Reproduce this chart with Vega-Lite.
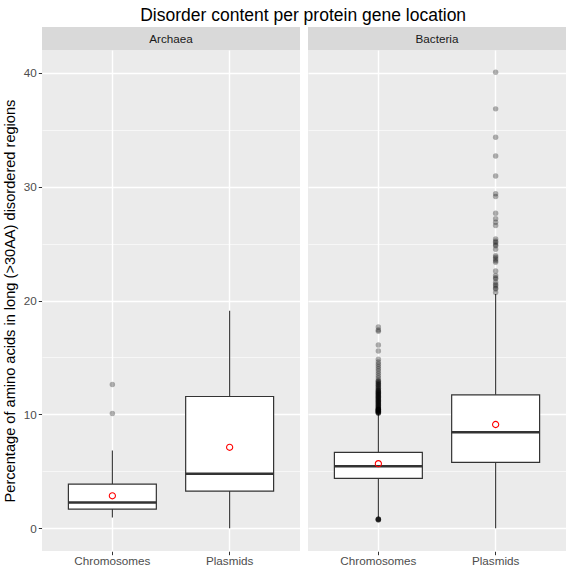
{
  "$schema": "https://vega.github.io/schema/vega-lite/v6.json",
  "padding": {"left": 2, "top": 6, "right": 0, "bottom": 0},
  "title": {"text": "Disorder content per protein gene location", "fontSize": 17.5, "font": "Liberation Sans", "fontWeight": "normal", "color": "#000000", "anchor": "middle", "offset": 3, "dx": 19},
  "datasets": {
    "extra": []
  },
  "data": {"values": [
    {"domain": "Archaea", "location": "Chromosomes", "kind": "box", "lower": 0.94, "q1": 1.68, "median": 2.26, "q3": 3.88, "upper": 6.82, "mean": 2.85},
    {"domain": "Archaea", "location": "Plasmids", "kind": "box", "lower": 0, "q1": 3.26, "median": 4.79, "q3": 11.57, "upper": 19.1, "mean": 7.11},
    {"domain": "Bacteria", "location": "Chromosomes", "kind": "box", "lower": 0.95, "q1": 4.38, "median": 5.44, "q3": 6.67, "upper": 10.05, "mean": 5.67},
    {"domain": "Bacteria", "location": "Plasmids", "kind": "box", "lower": 0, "q1": 5.79, "median": 8.43, "q3": 11.72, "upper": 20.56, "mean": 9.11},
    {"domain": "Archaea", "location": "Chromosomes", "kind": "outlier", "value": 12.63},
    {"domain": "Archaea", "location": "Chromosomes", "kind": "outlier", "value": 10.08},
    {"domain": "Bacteria", "location": "Chromosomes", "kind": "outlier", "value": 17.68},
    {"domain": "Bacteria", "location": "Chromosomes", "kind": "outlier", "value": 17.4},
    {"domain": "Bacteria", "location": "Chromosomes", "kind": "outlier", "value": 17.3},
    {"domain": "Bacteria", "location": "Chromosomes", "kind": "outlier", "value": 16.1},
    {"domain": "Bacteria", "location": "Chromosomes", "kind": "outlier", "value": 15.57},
    {"domain": "Bacteria", "location": "Chromosomes", "kind": "outlier", "value": 14.84},
    {"domain": "Bacteria", "location": "Chromosomes", "kind": "outlier", "value": 14.6},
    {"domain": "Bacteria", "location": "Chromosomes", "kind": "outlier", "value": 14.4},
    {"domain": "Bacteria", "location": "Chromosomes", "kind": "outlier", "value": 14.2},
    {"domain": "Bacteria", "location": "Chromosomes", "kind": "outlier", "value": 14.0},
    {"domain": "Bacteria", "location": "Chromosomes", "kind": "outlier", "value": 13.8},
    {"domain": "Bacteria", "location": "Chromosomes", "kind": "outlier", "value": 13.6},
    {"domain": "Bacteria", "location": "Chromosomes", "kind": "outlier", "value": 13.4},
    {"domain": "Bacteria", "location": "Chromosomes", "kind": "outlier", "value": 13.2},
    {"domain": "Bacteria", "location": "Chromosomes", "kind": "outlier", "value": 13.0},
    {"domain": "Bacteria", "location": "Chromosomes", "kind": "outlier", "value": 12.9},
    {"domain": "Bacteria", "location": "Chromosomes", "kind": "outlier", "value": 12.85},
    {"domain": "Bacteria", "location": "Chromosomes", "kind": "outlier", "value": 12.75},
    {"domain": "Bacteria", "location": "Chromosomes", "kind": "outlier", "value": 12.7},
    {"domain": "Bacteria", "location": "Chromosomes", "kind": "outlier", "value": 12.6},
    {"domain": "Bacteria", "location": "Chromosomes", "kind": "outlier", "value": 12.55},
    {"domain": "Bacteria", "location": "Chromosomes", "kind": "outlier", "value": 12.45},
    {"domain": "Bacteria", "location": "Chromosomes", "kind": "outlier", "value": 12.4},
    {"domain": "Bacteria", "location": "Chromosomes", "kind": "outlier", "value": 12.3},
    {"domain": "Bacteria", "location": "Chromosomes", "kind": "outlier", "value": 12.25},
    {"domain": "Bacteria", "location": "Chromosomes", "kind": "outlier", "value": 12.15},
    {"domain": "Bacteria", "location": "Chromosomes", "kind": "outlier", "value": 12.1},
    {"domain": "Bacteria", "location": "Chromosomes", "kind": "outlier", "value": 12.05},
    {"domain": "Bacteria", "location": "Chromosomes", "kind": "outlier", "value": 12.0},
    {"domain": "Bacteria", "location": "Chromosomes", "kind": "outlier", "value": 11.95},
    {"domain": "Bacteria", "location": "Chromosomes", "kind": "outlier", "value": 11.9},
    {"domain": "Bacteria", "location": "Chromosomes", "kind": "outlier", "value": 11.85},
    {"domain": "Bacteria", "location": "Chromosomes", "kind": "outlier", "value": 11.8},
    {"domain": "Bacteria", "location": "Chromosomes", "kind": "outlier", "value": 11.75},
    {"domain": "Bacteria", "location": "Chromosomes", "kind": "outlier", "value": 11.7},
    {"domain": "Bacteria", "location": "Chromosomes", "kind": "outlier", "value": 11.65},
    {"domain": "Bacteria", "location": "Chromosomes", "kind": "outlier", "value": 11.6},
    {"domain": "Bacteria", "location": "Chromosomes", "kind": "outlier", "value": 11.55},
    {"domain": "Bacteria", "location": "Chromosomes", "kind": "outlier", "value": 11.5},
    {"domain": "Bacteria", "location": "Chromosomes", "kind": "outlier", "value": 11.45},
    {"domain": "Bacteria", "location": "Chromosomes", "kind": "outlier", "value": 11.4},
    {"domain": "Bacteria", "location": "Chromosomes", "kind": "outlier", "value": 11.35},
    {"domain": "Bacteria", "location": "Chromosomes", "kind": "outlier", "value": 11.3},
    {"domain": "Bacteria", "location": "Chromosomes", "kind": "outlier", "value": 11.25},
    {"domain": "Bacteria", "location": "Chromosomes", "kind": "outlier", "value": 11.2},
    {"domain": "Bacteria", "location": "Chromosomes", "kind": "outlier", "value": 11.15},
    {"domain": "Bacteria", "location": "Chromosomes", "kind": "outlier", "value": 11.1},
    {"domain": "Bacteria", "location": "Chromosomes", "kind": "outlier", "value": 11.05},
    {"domain": "Bacteria", "location": "Chromosomes", "kind": "outlier", "value": 11.0},
    {"domain": "Bacteria", "location": "Chromosomes", "kind": "outlier", "value": 10.95},
    {"domain": "Bacteria", "location": "Chromosomes", "kind": "outlier", "value": 10.9},
    {"domain": "Bacteria", "location": "Chromosomes", "kind": "outlier", "value": 10.85},
    {"domain": "Bacteria", "location": "Chromosomes", "kind": "outlier", "value": 10.8},
    {"domain": "Bacteria", "location": "Chromosomes", "kind": "outlier", "value": 10.75},
    {"domain": "Bacteria", "location": "Chromosomes", "kind": "outlier", "value": 10.7},
    {"domain": "Bacteria", "location": "Chromosomes", "kind": "outlier", "value": 10.65},
    {"domain": "Bacteria", "location": "Chromosomes", "kind": "outlier", "value": 10.6},
    {"domain": "Bacteria", "location": "Chromosomes", "kind": "outlier", "value": 10.55},
    {"domain": "Bacteria", "location": "Chromosomes", "kind": "outlier", "value": 10.5},
    {"domain": "Bacteria", "location": "Chromosomes", "kind": "outlier", "value": 10.48},
    {"domain": "Bacteria", "location": "Chromosomes", "kind": "outlier", "value": 10.45},
    {"domain": "Bacteria", "location": "Chromosomes", "kind": "outlier", "value": 10.42},
    {"domain": "Bacteria", "location": "Chromosomes", "kind": "outlier", "value": 10.4},
    {"domain": "Bacteria", "location": "Chromosomes", "kind": "outlier", "value": 10.38},
    {"domain": "Bacteria", "location": "Chromosomes", "kind": "outlier", "value": 10.35},
    {"domain": "Bacteria", "location": "Chromosomes", "kind": "outlier", "value": 10.33},
    {"domain": "Bacteria", "location": "Chromosomes", "kind": "outlier", "value": 10.3},
    {"domain": "Bacteria", "location": "Chromosomes", "kind": "outlier", "value": 10.28},
    {"domain": "Bacteria", "location": "Chromosomes", "kind": "outlier", "value": 10.25},
    {"domain": "Bacteria", "location": "Chromosomes", "kind": "outlier", "value": 10.22},
    {"domain": "Bacteria", "location": "Chromosomes", "kind": "outlier", "value": 10.2},
    {"domain": "Bacteria", "location": "Chromosomes", "kind": "outlier", "value": 10.18},
    {"domain": "Bacteria", "location": "Chromosomes", "kind": "outlier", "value": 10.15},
    {"domain": "Bacteria", "location": "Chromosomes", "kind": "outlier", "value": 10.12},
    {"domain": "Bacteria", "location": "Chromosomes", "kind": "outlier", "value": 10.1},
    {"domain": "Bacteria", "location": "Chromosomes", "kind": "outlier", "value": 0.82},
    {"domain": "Bacteria", "location": "Chromosomes", "kind": "outlier", "value": 0.8},
    {"domain": "Bacteria", "location": "Chromosomes", "kind": "outlier", "value": 0.78},
    {"domain": "Bacteria", "location": "Chromosomes", "kind": "outlier", "value": 0.76},
    {"domain": "Bacteria", "location": "Chromosomes", "kind": "outlier", "value": 0.74},
    {"domain": "Bacteria", "location": "Chromosomes", "kind": "outlier", "value": 0.72},
    {"domain": "Bacteria", "location": "Plasmids", "kind": "outlier", "value": 40.05},
    {"domain": "Bacteria", "location": "Plasmids", "kind": "outlier", "value": 36.83},
    {"domain": "Bacteria", "location": "Plasmids", "kind": "outlier", "value": 34.33},
    {"domain": "Bacteria", "location": "Plasmids", "kind": "outlier", "value": 32.69},
    {"domain": "Bacteria", "location": "Plasmids", "kind": "outlier", "value": 30.93},
    {"domain": "Bacteria", "location": "Plasmids", "kind": "outlier", "value": 29.37},
    {"domain": "Bacteria", "location": "Plasmids", "kind": "outlier", "value": 29.13},
    {"domain": "Bacteria", "location": "Plasmids", "kind": "outlier", "value": 27.67},
    {"domain": "Bacteria", "location": "Plasmids", "kind": "outlier", "value": 27.17},
    {"domain": "Bacteria", "location": "Plasmids", "kind": "outlier", "value": 26.87},
    {"domain": "Bacteria", "location": "Plasmids", "kind": "outlier", "value": 26.58},
    {"domain": "Bacteria", "location": "Plasmids", "kind": "outlier", "value": 25.4},
    {"domain": "Bacteria", "location": "Plasmids", "kind": "outlier", "value": 25.2},
    {"domain": "Bacteria", "location": "Plasmids", "kind": "outlier", "value": 25.1},
    {"domain": "Bacteria", "location": "Plasmids", "kind": "outlier", "value": 24.9},
    {"domain": "Bacteria", "location": "Plasmids", "kind": "outlier", "value": 24.8},
    {"domain": "Bacteria", "location": "Plasmids", "kind": "outlier", "value": 24.5},
    {"domain": "Bacteria", "location": "Plasmids", "kind": "outlier", "value": 23.94},
    {"domain": "Bacteria", "location": "Plasmids", "kind": "outlier", "value": 23.8},
    {"domain": "Bacteria", "location": "Plasmids", "kind": "outlier", "value": 23.65},
    {"domain": "Bacteria", "location": "Plasmids", "kind": "outlier", "value": 23.5},
    {"domain": "Bacteria", "location": "Plasmids", "kind": "outlier", "value": 23.35},
    {"domain": "Bacteria", "location": "Plasmids", "kind": "outlier", "value": 22.6},
    {"domain": "Bacteria", "location": "Plasmids", "kind": "outlier", "value": 22.2},
    {"domain": "Bacteria", "location": "Plasmids", "kind": "outlier", "value": 22.0},
    {"domain": "Bacteria", "location": "Plasmids", "kind": "outlier", "value": 21.9},
    {"domain": "Bacteria", "location": "Plasmids", "kind": "outlier", "value": 21.6},
    {"domain": "Bacteria", "location": "Plasmids", "kind": "outlier", "value": 21.4},
    {"domain": "Bacteria", "location": "Plasmids", "kind": "outlier", "value": 21.3},
    {"domain": "Bacteria", "location": "Plasmids", "kind": "outlier", "value": 21.1},
    {"domain": "Bacteria", "location": "Plasmids", "kind": "outlier", "value": 21.0},
    {"domain": "Bacteria", "location": "Plasmids", "kind": "outlier", "value": 20.7}
  ]},
  "spacing": 0,
  "vconcat": [
    {
      "transform": [{"filter": "datum.kind === 'box' && datum.location === 'Chromosomes'"}],
      "facet": {"column": {"field": "domain", "type": "nominal", "header": null}},
      "spacing": 8,
      "spec": {
        "width": 258,
        "height": 23,
        "layer": [
          {"mark": {"type": "rect", "color": "#D9D9D9"}, "encoding": {"x": {"value": 0}, "x2": {"value": "width"}, "y": {"value": 0}, "y2": {"value": "height"}}},
          {"mark": {"type": "text", "font": "Liberation Sans", "fontSize": 11.7, "color": "#1A1A1A", "baseline": "middle", "align": "center"}, "encoding": {"text": {"field": "domain", "type": "nominal"}}}
        ]
      }
    },
    {
      "facet": {"column": {"field": "domain", "type": "nominal", "header": null}},
      "spacing": 8,
      "spec": {
        "width": 258,
        "height": 501,
        "layer": [
          {
            "transform": [{"filter": "datum.kind === 'box'"}],
            "mark": {"type": "rule", "color": "#333333", "strokeWidth": 1.1},
            "encoding": {
              "x": {"field": "location", "type": "nominal", "scale": {"paddingInner": 0.25, "paddingOuter": 0.225}, "axis": {"title": null, "grid": true, "gridColor": "#FFFFFF", "gridWidth": 1.4, "labelFontSize": 11.7, "labelPadding": 1, "labelAngle": 0}},
              "y": {"field": "lower", "type": "quantitative", "scale": {"domain": [-2, 42], "nice": false, "zero": false},
                "axis": {"title": "Percentage of amino acids in long (>30AA) disordered regions", "values": [0, 5, 10, 15, 20, 25, 30, 35, 40],
                  "labelExpr": "datum.value % 10 === 0 ? datum.label : ''",
                  "tickOpacity": {"condition": {"test": "datum.value % 10 === 0", "value": 1}, "value": 0},
                  "gridWidth": {"condition": {"test": "datum.value % 10 === 0", "value": 1.4}, "value": 0.6},
                  "titlePadding": 6}},
              "y2": {"field": "upper"}
            }
          },
          {
            "transform": [{"filter": "datum.kind === 'box'"}],
            "mark": {"type": "bar", "fill": "#FFFFFF", "stroke": "#333333", "strokeWidth": 1.2},
            "encoding": {
              "x": {"field": "location", "type": "nominal"},
              "y": {"field": "q1", "type": "quantitative"},
              "y2": {"field": "q3"}
            }
          },
          {
            "transform": [{"filter": "datum.kind === 'box'"}],
            "mark": {"type": "bar", "fill": null, "stroke": "#333333", "strokeWidth": 2.6},
            "encoding": {
              "x": {"field": "location", "type": "nominal"},
              "y": {"field": "median", "type": "quantitative"},
              "y2": {"field": "median"}
            }
          },
          {
            "transform": [{"filter": "datum.kind === 'box'"}],
            "mark": {"type": "point", "shape": "circle", "filled": false, "color": "#FF0000", "size": 38, "strokeWidth": 1.1, "opacity": 1},
            "encoding": {
              "x": {"field": "location", "type": "nominal"},
              "y": {"field": "mean", "type": "quantitative"}
            }
          },
          {
            "transform": [{"filter": "datum.kind === 'outlier'"}],
            "mark": {"type": "point", "shape": "circle", "filled": true, "color": "#000000", "size": 30, "opacity": 0.3, "strokeWidth": 0},
            "encoding": {
              "x": {"field": "location", "type": "nominal"},
              "y": {"field": "value", "type": "quantitative"}
            }
          }
        ]
      }
    }
  ],
  "config": {
    "view": {"fill": "#EBEBEB", "stroke": null},
    "font": "Liberation Sans",
    "axis": {"domain": false, "gridColor": "#FFFFFF", "tickColor": "#333333", "tickSize": 3.7, "tickWidth": 1, "labelColor": "#4D4D4D", "labelFontSize": 11.7, "labelFont": "Liberation Sans", "titleFont": "Liberation Sans", "titleFontSize": 14.6, "titleFontWeight": "normal", "titleColor": "#000000", "labelPadding": 2}
  }
}
